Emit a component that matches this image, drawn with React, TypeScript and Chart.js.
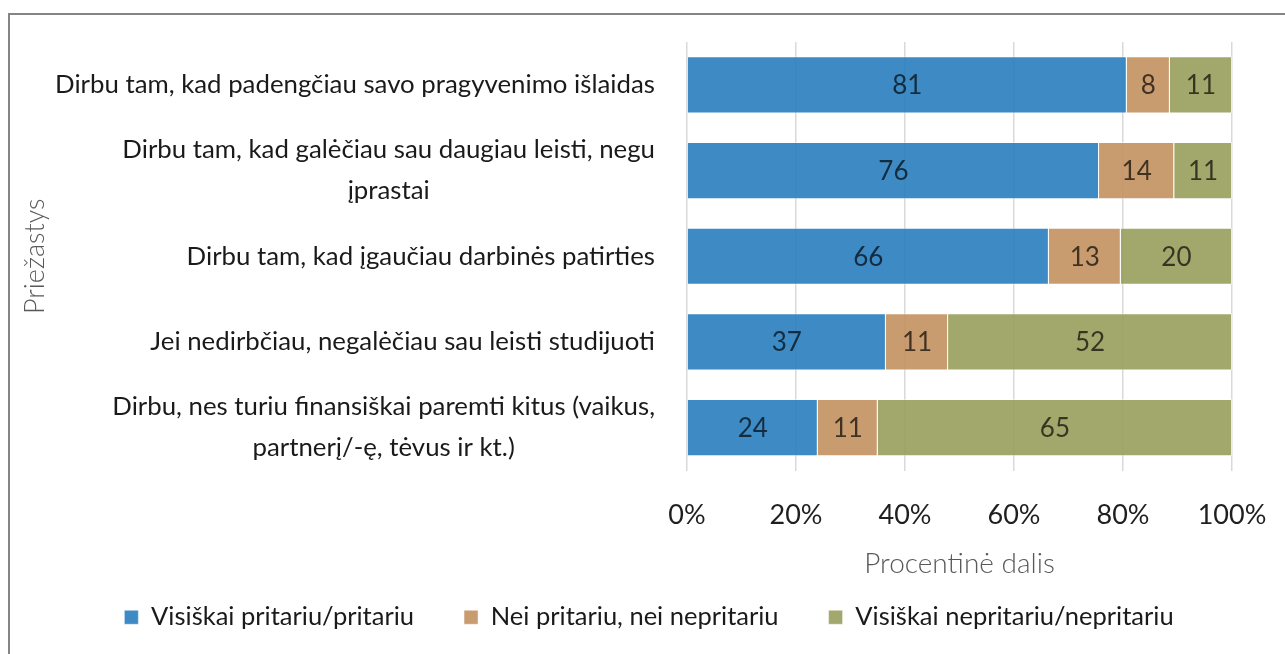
import React, { useEffect, useRef } from 'react';
import { Chart, registerables } from 'chart.js';

Chart.register(...registerables);

const categories: (string | string[])[] = [
  'Dirbu tam, kad padengčiau savo pragyvenimo išlaidas',
  ['Dirbu tam, kad galėčiau sau daugiau leisti, negu', 'įprastai'],
  'Dirbu tam, kad įgaučiau darbinės patirties',
  'Jei nedirbčiau, negalėčiau sau leisti studijuoti',
  ['Dirbu, nes turiu finansiškai paremti kitus (vaikus,', 'partnerį/-ę, tėvus ir kt.)'],
];
const seriesNames = [
  'Visiškai pritariu/pritariu',
  'Nei pritariu, nei nepritariu',
  'Visiškai nepritariu/nepritariu',
];
const agreeValues = [80.7, 75.6, 66.4, 36.5, 24.0];
const neutralValues = [7.9, 13.8, 13.2, 11.4, 11.0];
const disagreeValues = [11.4, 10.6, 20.4, 52.1, 65.0];
const xTickStep = 20;
const xTitle = 'Procentinė dalis';
const yTitle = 'Priežastys';

const FONT = 'Lato';
const CANVAS_W = 1275;
const CANVAS_H = 651;
const LEGEND_SHIFT_Y = 26;
const LEGEND_SHIFT_X = 28;
const Y_LABEL_SIZE = 25.8;
const Y_LABEL_LINE = 41;
const Y_LABEL_GAP = 32;

const valueLabels = {
  id: 'valueLabels',
  afterDatasetsDraw(chart: any) {
    const ctx = chart.ctx;
    ctx.save();
    ctx.font = `26px ${FONT}`;
    ctx.fillStyle = 'rgba(0,0,0,0.68)';
    ctx.textAlign = 'center';
    ctx.textBaseline = 'middle';
    chart.data.datasets.forEach((ds: any, i: number) => {
      const meta = chart.getDatasetMeta(i);
      meta.data.forEach((el: any, j: number) => {
        const p = el.getProps(['x', 'y', 'base'], true);
        ctx.fillText(String(Math.round(ds.data[j])), (p.x + p.base) / 2, p.y + 1);
      });
    });
    ctx.restore();
  },
};

// Category labels: block right-aligned to the axis, lines centred on each other
const categoryLabels = {
  id: 'categoryLabels',
  afterDraw(chart: any) {
    const ys = chart.scales.y;
    const ctx = chart.ctx;
    ctx.save();
    ctx.font = `${Y_LABEL_SIZE}px ${FONT}`;
    ctx.fillStyle = '#1a1a1a';
    ctx.textAlign = 'center';
    ctx.textBaseline = 'middle';
    const right = ys.right - Y_LABEL_GAP;
    (chart.data.labels as any[]).forEach((lab: any, i: number) => {
      const lines: string[] = Array.isArray(lab) ? lab : [lab];
      const maxW = Math.max(...lines.map((l) => ctx.measureText(l).width));
      const cx = right - maxW / 2;
      const y0 = ys.getPixelForTick(i) - ((lines.length - 1) * Y_LABEL_LINE) / 2;
      lines.forEach((l, k) => ctx.fillText(l, cx, y0 + k * Y_LABEL_LINE));
    });
    ctx.restore();
  },
};

const legendShift = {
  id: 'legendShift',
  afterLayout(chart: any) {
    const l = chart.legend;
    if (l) {
      l.top -= LEGEND_SHIFT_Y;
      l.bottom -= LEGEND_SHIFT_Y;
      l.left += LEGEND_SHIFT_X;
      l.right += LEGEND_SHIFT_X;
    }
  },
};

export default function App() {
  const ref = useRef<HTMLCanvasElement | null>(null);
  useEffect(() => {
    if (!ref.current) return;
    const chart = new Chart(ref.current, {
      type: 'bar',
      data: {
        labels: categories,
        datasets: [
          { label: seriesNames[0], data: agreeValues, backgroundColor: 'rgba(44,128,192,0.92)' },
          { label: seriesNames[1], data: neutralValues, backgroundColor: 'rgba(196,148,100,0.92)' },
          { label: seriesNames[2], data: disagreeValues, backgroundColor: 'rgba(154,161,94,0.92)' },
        ].map((d) => ({
          ...d,
          borderColor: 'rgba(255,255,255,0.45)',
          borderWidth: 1,
          barPercentage: 0.667,
          categoryPercentage: 1,
        })),
      },
      options: {
        indexAxis: 'y',
        responsive: false,
        animation: false,
        devicePixelRatio: 1,
        layout: { padding: { top: 27, right: 53, left: 0, bottom: 0 } },
        plugins: {
          tooltip: { enabled: false },
          legend: {
            position: 'bottom',
            labels: {
              boxWidth: 14,
              boxHeight: 14,
              padding: 50,
              color: '#1a1a1a',
              font: { family: FONT, size: 25.5 },
            },
          },
        },
        scales: {
          x: {
            stacked: true,
            min: 0,
            max: 100,
            afterFit: (scale: any) => {
              scale.paddingLeft = 0;
              scale.paddingRight = 0;
            },
            ticks: {
              stepSize: xTickStep,
              callback: (v: any) => `${v}%`,
              color: '#1f1f1f',
              padding: 29,
              font: { family: FONT, size: 27 },
            },
            grid: { color: '#d9d9d9', lineWidth: 1.5, drawTicks: false },
            border: { display: false },
            title: {
              display: true,
              text: xTitle,
              color: '#595959',
              padding: { top: -14, bottom: 0 },
              font: { family: FONT, size: 28, weight: '300' },
            },
          },
          y: {
            stacked: true,
            afterFit: (scale: any) => {
              scale.width = 677;
              scale.paddingTop = 0;
              scale.paddingBottom = 0;
            },
            ticks: { display: false, autoSkip: false },
            grid: { display: false, drawTicks: false },
            border: { display: false },
            title: {
              display: true,
              text: yTitle,
              color: '#595959',
              padding: { top: 9, bottom: 0 },
              font: { family: FONT, size: 27, weight: '300' },
            },
          },
        },
      },
      plugins: [valueLabels, categoryLabels, legendShift],
    } as any);
    return () => chart.destroy();
  }, []);

  return (
    <div
      style={{
        position: 'fixed',
        left: 0,
        top: 0,
        width: '100vw',
        height: '100vh',
        overflow: 'hidden',
        background: '#fff',
      }}
    >
      <div
        style={{
          position: 'absolute',
          left: 8,
          top: 13,
          width: 1400,
          height: 700,
          border: '2px solid #858585',
        }}
      >
        <canvas ref={ref} width={CANVAS_W} height={CANVAS_H} style={{ display: 'block', width: CANVAS_W, height: CANVAS_H }} />
      </div>
    </div>
  );
}
